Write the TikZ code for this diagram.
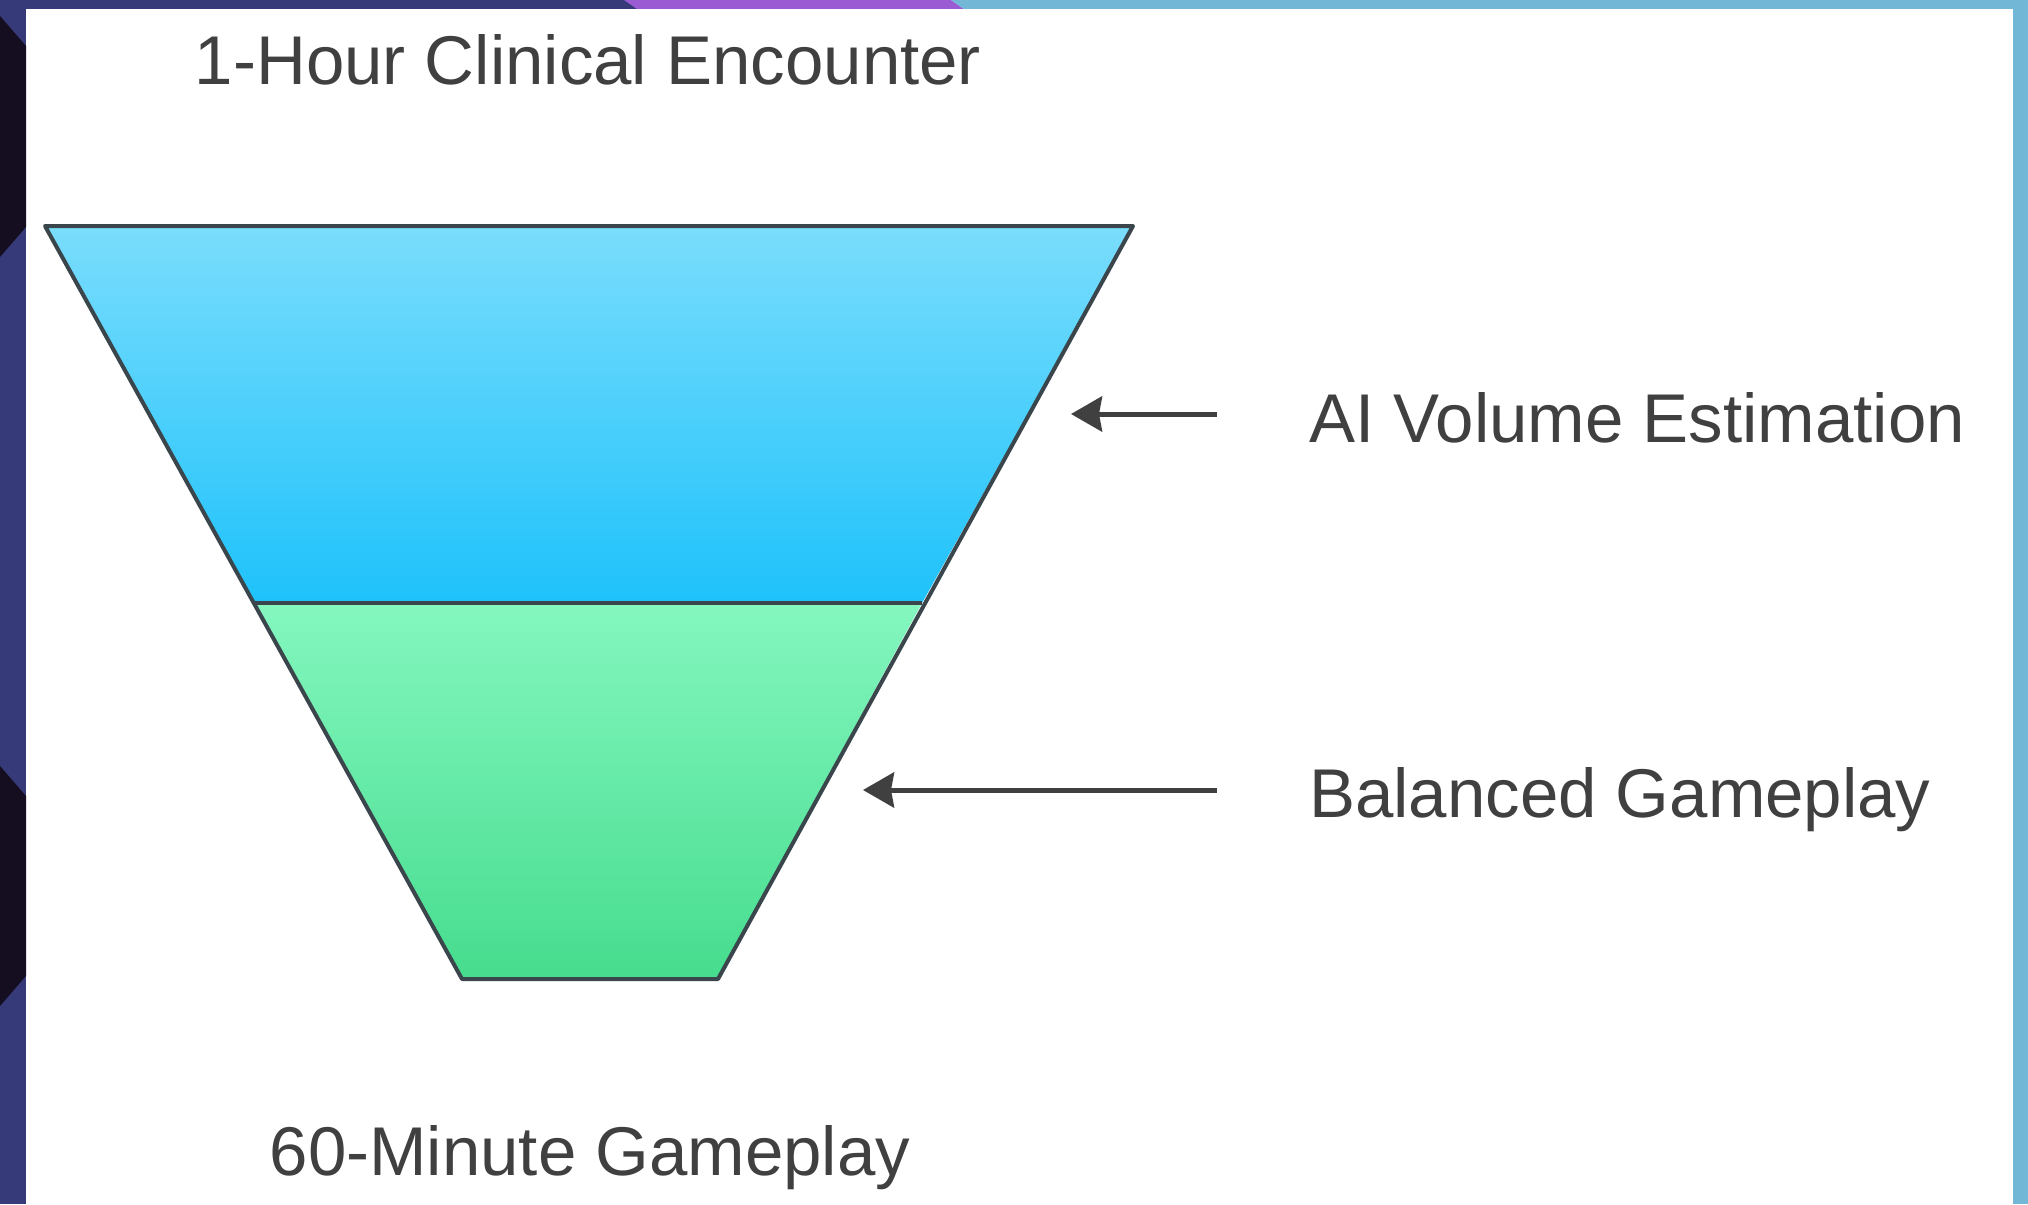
\documentclass[tikz,border=0pt]{standalone}
\usepackage{fontspec}
\setmainfont{Liberation Sans}
\usetikzlibrary{arrows.meta}
\definecolor{navy}{HTML}{363A78}
\definecolor{darkchev}{HTML}{140E20}
\definecolor{purp}{HTML}{9A5BD3}
\definecolor{lblue}{HTML}{72B8D6}
\definecolor{edgec}{HTML}{3A464C}
\definecolor{txtc}{HTML}{404040}
\definecolor{cyanT}{HTML}{7ADDFC}
\definecolor{cyanB}{HTML}{1EC2FB}
\definecolor{greenT}{HTML}{84F7BF}
\definecolor{greenB}{HTML}{46DC8E}
\begin{document}
\begin{tikzpicture}[x=1pt,y=-1pt,
  txtlbl/.style={font=\fontsize{69}{80}\selectfont, text=txtc, inner sep=0pt},
  arr/.style={-{Stealth[length=31pt,width=35pt,inset=3pt]}, line width=5pt, draw=txtc},
  outline/.style={draw=edgec, line width=4pt, line join=round}]
\useasboundingbox (0,0) rectangle (2028,1204);
% background frame
\fill[white] (0,0) rectangle (2028,1204);
\fill[navy] (0,0) rectangle (26,1204);
\fill[navy] (0,0) rectangle (640,9);
\fill[darkchev] (0,16) -- (26,46) -- (26,227) -- (0,257) -- cycle;
\fill[darkchev] (0,766) -- (26,796) -- (26,976) -- (0,1006) -- cycle;
\fill[purp] (624,0) -- (951,0) -- (964,9) -- (637,9) -- cycle;
\fill[lblue] (951,0) -- (2028,0) -- (2028,9) -- (964,9) -- cycle;
\fill[lblue] (2013,0) rectangle (2028,1204);
% funnel
\coordinate (TL) at (45,226);
\coordinate (TR) at (1133,226);
\coordinate (ML) at (255,603);
\coordinate (MR) at (922,603);
\coordinate (BL) at (462,979);
\coordinate (BR) at (718,979);
\shade[top color=cyanT, bottom color=cyanB] (TL) -- (TR) -- (MR) -- (ML) -- cycle;
\shade[top color=greenT, bottom color=greenB] (ML) -- (MR) -- (BR) -- (BL) -- cycle;
\draw[outline] (TL) -- (TR) -- (BR) -- (BL) -- cycle;
\draw[outline] (ML) -- (MR);
% labels
\node[txtlbl, anchor=base] (top) at (588,85) {1-Hour Clinical Encounter};
\node[txtlbl, anchor=base] (bottom) at (590,1175) {60-Minute Gameplay};
\node[txtlbl, anchor=base west] (ai) at (1309,442) {AI Volume Estimation};
\node[txtlbl, anchor=base west] (bal) at (1309,817) {Balanced Gameplay};
% arrows
\coordinate (a1s) at (1217,414);
\coordinate (a1e) at (1071,414);
\coordinate (a2s) at (1217,790);
\coordinate (a2e) at (863,790);
\draw[arr] (a1s) -- (a1e);
\draw[arr] (a2s) -- (a2e);
\end{tikzpicture}
\end{document}
